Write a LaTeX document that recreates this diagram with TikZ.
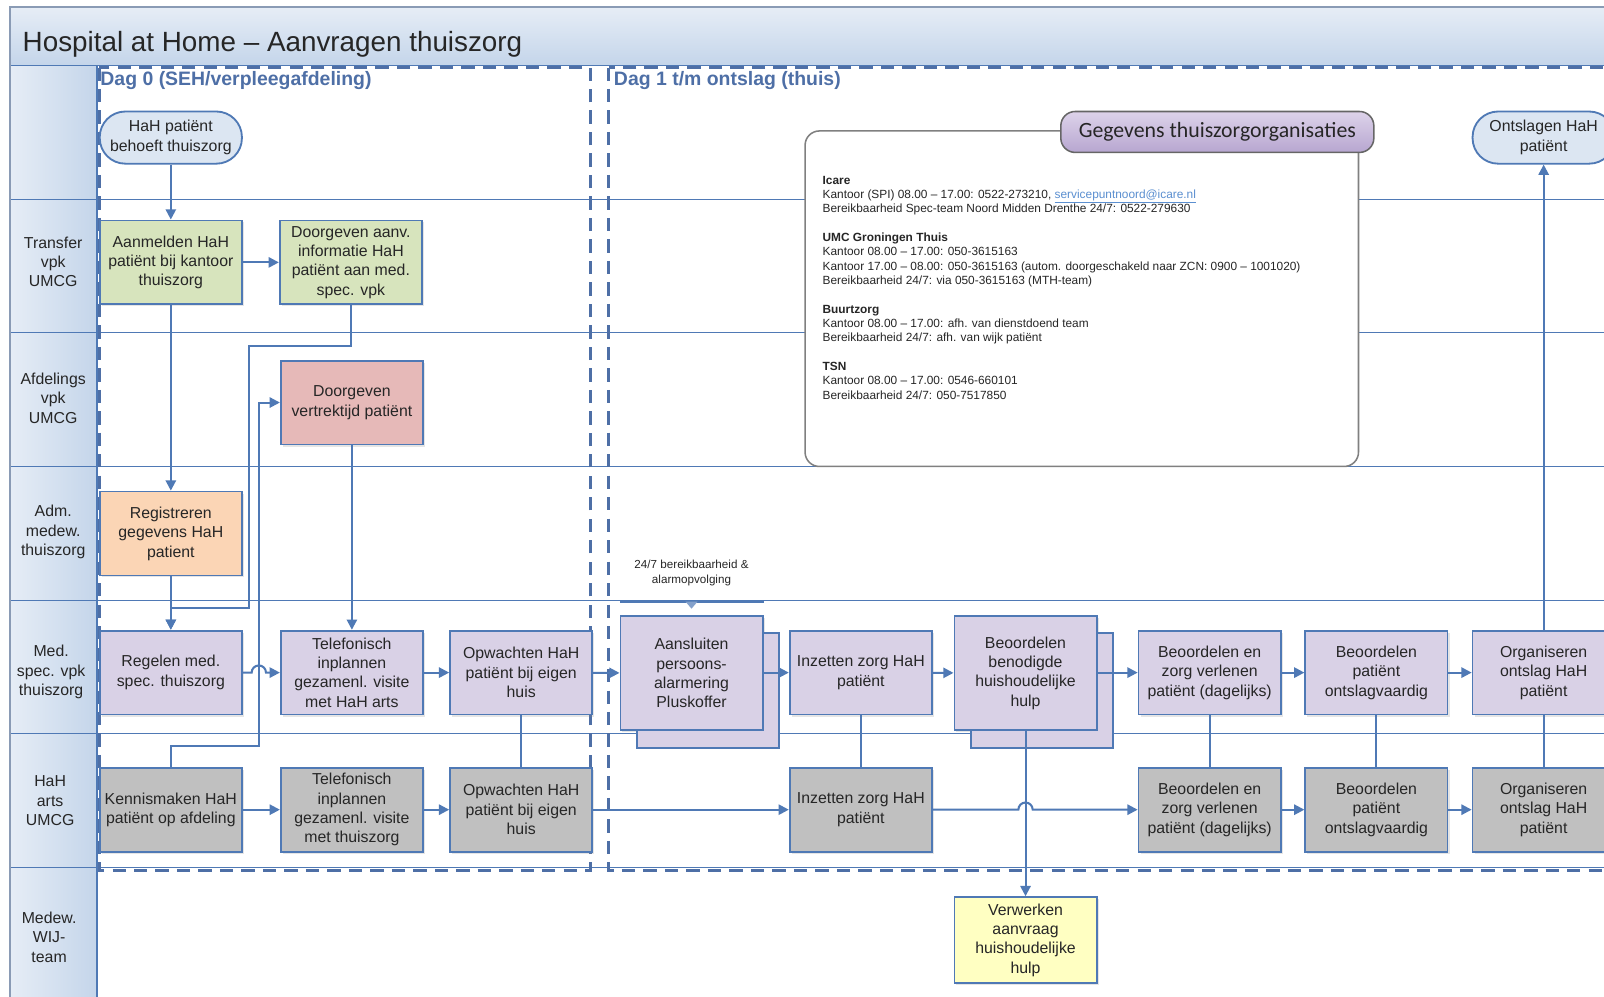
\documentclass[tikz,border=0pt]{standalone}
\usepackage{fontspec}
\setmainfont{Liberation Sans}
\newfontfamily\gegevensfont{Carlito}
\usetikzlibrary{positioning,arrows.meta,shadows}

\definecolor{lineblue}{HTML}{4F79B5}
\definecolor{phaseblue}{HTML}{4E6FA6}
\definecolor{framegray}{HTML}{8A9BB5}
\definecolor{headlight}{HTML}{E6EDF6}
\definecolor{headdark}{HTML}{C4D5EA}
\definecolor{transferfill}{HTML}{D7E4BD}
\definecolor{afdelingfill}{HTML}{E6B9B8}
\definecolor{admfill}{HTML}{FBD5B5}
\definecolor{medfill}{HTML}{D9D1E6}
\definecolor{artsfill}{HTML}{C0C0C0}
\definecolor{wijfill}{HTML}{FFFFC2}
\definecolor{terminalfill}{HTML}{DCE6F2}
\definecolor{gegevenstop}{HTML}{DDD3EA}
\definecolor{gegevensbottom}{HTML}{B7A6D0}
\definecolor{textgray}{HTML}{262626}
\definecolor{linkblue}{HTML}{5B8FD0}

\tikzset{node distance=134pt, auto, >={Triangle[length=10pt,width=10pt]},
  boxfont/.style={font=\fontsize{15.5}{19}\selectfont, text=textgray},
  box/.style={boxfont, draw=lineblue, line width=1.8pt, minimum width=139pt,
    minimum height=82pt, inner sep=0pt, align=center,
    drop shadow={shadow xshift=2pt, shadow yshift=-2pt, opacity=0.2}},
  transferbox/.style={box, fill=transferfill},
  afdelingbox/.style={box, fill=afdelingfill},
  admbox/.style={box, fill=admfill},
  medbox/.style={box, fill=medfill},
  artsbox/.style={box, fill=artsfill},
  wijbox/.style={box, fill=wijfill},
  stackbox/.style={medbox, minimum height=112pt,
    copy shadow={shadow xshift=16pt, shadow yshift=-17pt}},
  terminal/.style={boxfont, draw=lineblue, line width=1.8pt, fill=terminalfill,
    rounded corners=25pt, minimum width=139pt, minimum height=51pt,
    inner sep=0pt, align=center},
  lanelabel/.style={boxfont, align=center, inner sep=0pt},
  phaselabel/.style={font=\bfseries\fontsize{19}{23}\selectfont, text=phaseblue,
    inner sep=0pt, anchor=west},
  lane/.style={draw=lineblue, line width=1.5pt},
  phase/.style={draw=phaseblue, line width=2.8pt, dash pattern=on 13pt off 8pt},
  conn/.style={draw=lineblue, line width=2pt},
  infobox/.style={draw=gray, line width=1.5pt, fill=white, rounded corners=14pt,
    minimum width=541pt, minimum height=328pt},
  gegevensbox/.style={draw=black!60, line width=1.5pt, rounded corners=14pt,
    top color=gegevenstop, bottom color=gegevensbottom, minimum width=306pt,
    minimum height=40pt, font=\gegevensfont\fontsize{21.3}{25}\selectfont,
    text=textgray},
}

\begin{document}
\begin{tikzpicture}[x=1pt, y=-1pt]

  \useasboundingbox (0,0) rectangle (1568,974);
  \clip (0,0) rectangle (1568,974);
  \fill[white] (0,0) rectangle (1568,974);

  \shade[top color=headlight, bottom color=headdark] (10,7) rectangle (1600,64);
  \shade[left color=headlight, right color=headdark] (10,64) rectangle (95,1000);
  \foreach \y in {64,195,325,456,587,717,848}
    \draw[lane] (10,\y) -- (1600,\y);
  \draw[lane] (95,64) -- (95,1000);
  \draw[framegray, line width=1.5pt] (10,7) rectangle (1600,1000);

  \node (title) [anchor=west, inner sep=0pt, text=textgray,
    font=\fontsize{27.2}{32}\selectfont] at (22,43) {Hospital at Home – Aanvragen thuiszorg};

  \node (transfer) [lanelabel] at (52,256) {Transfer\\vpk\\UMCG};
  \node (afdeling) [lanelabel] at (52,389) {Afdelings\\vpk\\UMCG};
  \node (adm) [lanelabel] at (52,520) {Adm.\\medew.\\thuiszorg};
  \node (med) [lanelabel] at (50,657) {Med.\\spec. vpk\\thuiszorg};
  \node (arts) [lanelabel] at (49,783) {HaH\\arts\\UMCG};
  \node (wij) [lanelabel] at (48,916) {Medew.\\WIJ-\\team};

  \draw[phase] (97,66) rectangle (577,851);
  \draw[phase] (595,66) rectangle (1640,851);
  \node (dag0) [phaselabel] at (98,79) {Dag 0 (SEH/verpleegafdeling)};
  \node (dag1) [phaselabel] at (600,79) {Dag 1 t/m ontslag (thuis)};

  \node (infobox) [infobox] at (1057.5,292) {};
  \node (infotext) [anchor=north west, align=left, inner sep=0pt, text=textgray,
    font=\fontsize{11.6}{14}\selectfont] at (804,172) {%
    \textbf{Icare}\\
    Kantoor (SPI) 08.00 – 17.00: 0522-273210, \textcolor{linkblue}{\underline{servicepuntnoord@icare.nl}}\\
    Bereikbaarheid Spec-team Noord Midden Drenthe 24/7: 0522-279630\\[14pt]
    \textbf{UMC Groningen Thuis}\\
    Kantoor 08.00 – 17.00: 050-3615163\\
    Kantoor 17.00 – 08.00: 050-3615163 (autom. doorgeschakeld naar ZCN: 0900 – 1001020)\\
    Bereikbaarheid 24/7: via 050-3615163 (MTH-team)\\[14pt]
    \textbf{Buurtzorg}\\
    Kantoor 08.00 – 17.00: afh. van dienstdoend team\\
    Bereikbaarheid 24/7: afh. van wijk patiënt\\[14pt]
    \textbf{TSN}\\
    Kantoor 08.00 – 17.00: 0546-660101\\
    Bereikbaarheid 24/7: 050-7517850};
  \node (gegevens) [gegevensbox] at (1190,129) {Gegevens thuiszorgorganisaties};

  \node (start) [terminal] at (167,134.5) {HaH patiënt\\behoeft thuiszorg};
  \node (einde) [terminal] at (1509,134.5) {Ontslagen HaH\\patiënt};

  \node (aanmelden) [transferbox] at (167,256.5) {Aanmelden HaH\\patiënt bij kantoor\\thuiszorg};
  \node (doorgevenInfo) [transferbox] at (343,256.5) {Doorgeven aanv.\\informatie HaH\\patiënt aan med.\\spec. vpk};
  \node (doorgevenVertrek) [afdelingbox] at (344,393.5) {Doorgeven\\vertrektijd patiënt};
  \node (registreren) [admbox] at (167,521.5) {Registreren\\gegevens HaH\\patient};

  \node (regelen) [medbox] at (167,657.5) {Regelen med.\\spec. thuiszorg};
  \node (telefonischHaH) [medbox] at (344,657.5) {Telefonisch\\inplannen\\gezamenl. visite\\met HaH arts};
  \node (opwachtenVpk) [medbox] at (509.5,657.5) {Opwachten HaH\\patiënt bij eigen\\huis};
  \node (aansluiten) [stackbox] at (676,658) {Aansluiten\\persoons-\\alarmering\\Pluskoffer};
  \node (inzettenVpk) [medbox] at (841.5,657.5) {Inzetten zorg HaH\\patiënt};
  \node (hulp) [stackbox] at (1002.5,658) {Beoordelen\\benodigde\\huishoudelijke\\hulp};
  \node (dagelijksVpk) [medbox] at (1182.5,657.5) {Beoordelen en\\zorg verlenen\\patiënt (dagelijks)};
  \node (ontslagVpk) [medbox] at (1345.5,657.5) {Beoordelen\\patiënt\\ontslagvaardig};
  \node (organiserenVpk) [medbox] at (1509,657.5) {Organiseren\\ontslag HaH\\patiënt};

  \node (kennismaken) [artsbox, below of=regelen] {Kennismaken HaH\\patiënt op afdeling};
  \node (telefonischThuis) [artsbox, below of=telefonischHaH] {Telefonisch\\inplannen\\gezamenl. visite\\met thuiszorg};
  \node (opwachtenArts) [artsbox, below of=opwachtenVpk] {Opwachten HaH\\patiënt bij eigen\\huis};
  \node (inzettenArts) [artsbox, below of=inzettenVpk] {Inzetten zorg HaH\\patiënt};
  \node (dagelijksArts) [artsbox, below of=dagelijksVpk] {Beoordelen en\\zorg verlenen\\patiënt (dagelijks)};
  \node (ontslagArts) [artsbox, below of=ontslagVpk] {Beoordelen\\patiënt\\ontslagvaardig};
  \node (organiserenArts) [artsbox, below of=organiserenVpk] {Organiseren\\ontslag HaH\\patiënt};

  \node (verwerken) [wijbox, minimum height=84pt] at (1002.5,919) {Verwerken\\aanvraag\\huishoudelijke\\hulp};

  \coordinate (bendA) at (243,338);
  \coordinate (bendB) at (243,594);
  \coordinate (bendC) at (253,729);

  \draw[conn,->] (start) -- (aanmelden);
  \draw[conn,->] (aanmelden) -- (doorgevenInfo);
  \draw[conn,->] (aanmelden) -- (registreren);
  \draw[conn,->] (registreren) -- (regelen);
  \draw[conn,->] (doorgevenInfo.south) |- (bendA) -- (bendB) -| (regelen.north);
  \draw[conn,->] (doorgevenVertrek) -- (telefonischHaH);
  \draw[conn,->] (kennismaken.north) |- (bendC) |- (doorgevenVertrek.west);
  \draw[conn,->] (regelen.east) -- ([xshift=-7pt]bendC |- regelen.east)
    arc[start angle=180, end angle=0, radius=7pt] -- (telefonischHaH.west);
  \draw[conn,->] (telefonischHaH) -- (opwachtenVpk);
  \draw[conn,->] (opwachtenVpk) -- (aansluiten);
  \draw[conn,->] (aansluiten.east |- inzettenVpk.west) -- (inzettenVpk.west);
  \draw[conn,->] (inzettenVpk) -- (hulp);
  \draw[conn,->] (hulp.east |- dagelijksVpk.west) -- (dagelijksVpk.west);
  \draw[conn,->] (dagelijksVpk) -- (ontslagVpk);
  \draw[conn,->] (ontslagVpk) -- (organiserenVpk);
  \draw[conn,->] (organiserenVpk) -- (einde);

  \draw[conn,->] (kennismaken) -- (telefonischThuis);
  \draw[conn,->] (telefonischThuis) -- (opwachtenArts);
  \draw[conn,->] (opwachtenArts) -- (inzettenArts);
  \draw[conn,->] (inzettenArts.east) -- ([xshift=-7pt]hulp.south |- inzettenArts.east)
    arc[start angle=180, end angle=0, radius=7pt] -- (dagelijksArts.west);
  \draw[conn,->] (dagelijksArts) -- (ontslagArts);
  \draw[conn,->] (ontslagArts) -- (organiserenArts);

  \draw[conn] (opwachtenVpk) -- (opwachtenArts);
  \draw[conn] (inzettenVpk) -- (inzettenArts);
  \draw[conn] (dagelijksVpk) -- (dagelijksArts);
  \draw[conn] (ontslagVpk) -- (ontslagArts);
  \draw[conn] (organiserenVpk) -- (organiserenArts);
  \draw[conn,->] (hulp.south) -- (verwerken.north);

  \node (alarm) [align=center, text=textgray, inner sep=0pt,
    font=\fontsize{11.4}{15}\selectfont] at (676,560) {24/7 bereikbaarheid \&\\alarmopvolging};
  \coordinate (alarmtip) at (676,588);
  \draw[lineblue, line width=2.2pt] (aansluiten.west |- alarmtip) -- (aansluiten.east |- alarmtip);
  \fill[lineblue!70] ([xshift=-6pt]alarmtip) -- ([xshift=6pt]alarmtip) -- ([yshift=-7pt]alarmtip) -- cycle;

\end{tikzpicture}
\end{document}
